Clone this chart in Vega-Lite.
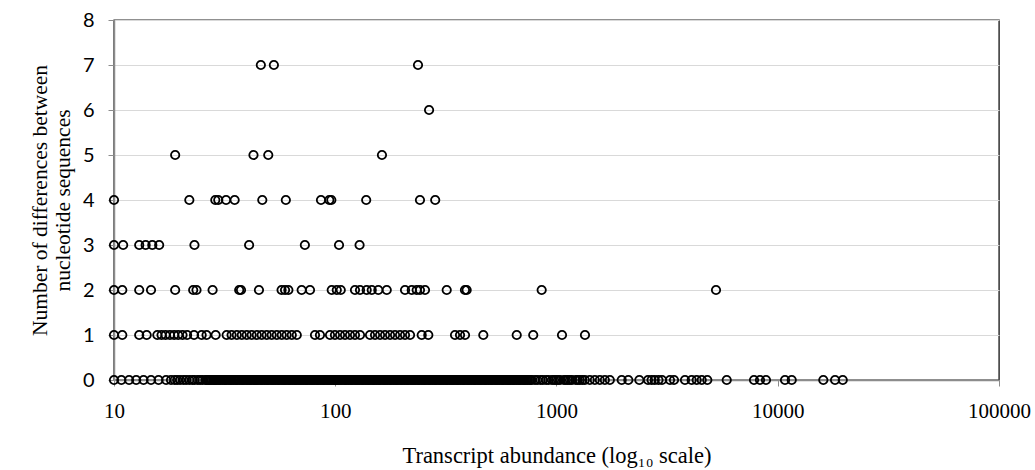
{
  "$schema": "https://vega.github.io/schema/vega-lite/v6.json",
  "autosize": "none",
  "width": 885,
  "height": 360,
  "padding": {"left": 114, "top": 20, "right": 36, "bottom": 90},
  "background": "white",
  "config": {
    "view": {"stroke": "#222222", "strokeWidth": 1.4},
    "axis": {"grid": false}
  },
  "datasets": {
    "pts": [
      {"abundance": 46.1, "diff": 7}, {"abundance": 52.8, "diff": 7}, {"abundance": 236.6, "diff": 7},
      {"abundance": 265.5, "diff": 6},
      {"abundance": 18.9, "diff": 5}, {"abundance": 42.7, "diff": 5}, {"abundance": 49.8, "diff": 5}, {"abundance": 162.6, "diff": 5},
      {"abundance": 10.0, "diff": 4}, {"abundance": 21.9, "diff": 4}, {"abundance": 28.7, "diff": 4}, {"abundance": 29.6, "diff": 4},
      {"abundance": 32.1, "diff": 4}, {"abundance": 35.1, "diff": 4}, {"abundance": 46.8, "diff": 4}, {"abundance": 59.8, "diff": 4},
      {"abundance": 86.2, "diff": 4}, {"abundance": 94.0, "diff": 4}, {"abundance": 96.0, "diff": 4}, {"abundance": 138, "diff": 4},
      {"abundance": 241.5, "diff": 4}, {"abundance": 283, "diff": 4},
      {"abundance": 10.0, "diff": 3}, {"abundance": 11.0, "diff": 3}, {"abundance": 13.0, "diff": 3}, {"abundance": 13.9, "diff": 3},
      {"abundance": 14.9, "diff": 3}, {"abundance": 16.0, "diff": 3}, {"abundance": 23.1, "diff": 3}, {"abundance": 40.8, "diff": 3},
      {"abundance": 72.9, "diff": 3}, {"abundance": 104, "diff": 3}, {"abundance": 128.8, "diff": 3},
      {"abundance": 10.0, "diff": 2}, {"abundance": 10.9, "diff": 2}, {"abundance": 13.0, "diff": 2}, {"abundance": 14.7, "diff": 2},
      {"abundance": 18.9, "diff": 2}, {"abundance": 22.8, "diff": 2}, {"abundance": 23.6, "diff": 2}, {"abundance": 27.9, "diff": 2},
      {"abundance": 36.8, "diff": 2}, {"abundance": 37.5, "diff": 2}, {"abundance": 45.2, "diff": 2}, {"abundance": 57.2, "diff": 2},
      {"abundance": 59.3, "diff": 2}, {"abundance": 61.4, "diff": 2}, {"abundance": 70.5, "diff": 2}, {"abundance": 76.9, "diff": 2},
      {"abundance": 96.4, "diff": 2}, {"abundance": 101.6, "diff": 2}, {"abundance": 105.9, "diff": 2}, {"abundance": 122.8, "diff": 2},
      {"abundance": 129.4, "diff": 2}, {"abundance": 138.7, "diff": 2}, {"abundance": 146.2, "diff": 2}, {"abundance": 156.6, "diff": 2},
      {"abundance": 170.9, "diff": 2}, {"abundance": 206.7, "diff": 2}, {"abundance": 221.7, "diff": 2}, {"abundance": 233.4, "diff": 2},
      {"abundance": 241.5, "diff": 2}, {"abundance": 254.5, "diff": 2}, {"abundance": 319, "diff": 2}, {"abundance": 385.7, "diff": 2},
      {"abundance": 392.6, "diff": 2}, {"abundance": 857, "diff": 2}, {"abundance": 5260, "diff": 2},
      {"abundance": 10.0, "diff": 1}, {"abundance": 10.9, "diff": 1}, {"abundance": 13.0, "diff": 1}, {"abundance": 14.05, "diff": 1},
      {"abundance": 15.7, "diff": 1}, {"abundance": 16.4, "diff": 1}, {"abundance": 17.1, "diff": 1}, {"abundance": 17.9, "diff": 1},
      {"abundance": 18.7, "diff": 1}, {"abundance": 19.5, "diff": 1}, {"abundance": 20.4, "diff": 1}, {"abundance": 21.4, "diff": 1},
      {"abundance": 23.0, "diff": 1}, {"abundance": 24.9, "diff": 1}, {"abundance": 26.2, "diff": 1}, {"abundance": 28.8, "diff": 1},
      {"abundance": 32.3, "diff": 1}, {"abundance": 34.0, "diff": 1}, {"abundance": 35.9, "diff": 1}, {"abundance": 37.8, "diff": 1},
      {"abundance": 39.8, "diff": 1}, {"abundance": 41.9, "diff": 1}, {"abundance": 44.2, "diff": 1}, {"abundance": 46.5, "diff": 1},
      {"abundance": 49.0, "diff": 1}, {"abundance": 51.6, "diff": 1}, {"abundance": 54.4, "diff": 1}, {"abundance": 57.3, "diff": 1},
      {"abundance": 60.3, "diff": 1}, {"abundance": 63.6, "diff": 1}, {"abundance": 67.0, "diff": 1}, {"abundance": 81.0, "diff": 1},
      {"abundance": 85.3, "diff": 1}, {"abundance": 94.7, "diff": 1}, {"abundance": 99.7, "diff": 1}, {"abundance": 105.1, "diff": 1},
      {"abundance": 110.7, "diff": 1}, {"abundance": 116.6, "diff": 1}, {"abundance": 122.8, "diff": 1}, {"abundance": 129.4, "diff": 1},
      {"abundance": 143.6, "diff": 1}, {"abundance": 151.3, "diff": 1}, {"abundance": 159.4, "diff": 1}, {"abundance": 167.9, "diff": 1},
      {"abundance": 176.9, "diff": 1}, {"abundance": 186.3, "diff": 1}, {"abundance": 196.3, "diff": 1}, {"abundance": 206.7, "diff": 1},
      {"abundance": 217.8, "diff": 1}, {"abundance": 245.9, "diff": 1}, {"abundance": 263.4, "diff": 1}, {"abundance": 347.8, "diff": 1},
      {"abundance": 366.4, "diff": 1}, {"abundance": 386.0, "diff": 1}, {"abundance": 466.9, "diff": 1}, {"abundance": 661, "diff": 1},
      {"abundance": 785, "diff": 1}, {"abundance": 1059, "diff": 1}, {"abundance": 1345, "diff": 1},
      {"abundance": 10.0, "diff": 0}, {"abundance": 10.8, "diff": 0}, {"abundance": 11.7, "diff": 0}, {"abundance": 12.6, "diff": 0},
      {"abundance": 13.6, "diff": 0}, {"abundance": 14.7, "diff": 0}, {"abundance": 15.9, "diff": 0}, {"abundance": 17.2, "diff": 0},
      {"abundance": 18.1, "diff": 0}, {"abundance": 18.8, "diff": 0}, {"abundance": 19.3, "diff": 0}, {"abundance": 19.9, "diff": 0},
      {"abundance": 20.6, "diff": 0}, {"abundance": 21.2, "diff": 0}, {"abundance": 21.9, "diff": 0}, {"abundance": 22.6, "diff": 0},
      {"abundance": 23.1, "diff": 0}, {"abundance": 23.9, "diff": 0}, {"abundance": 24.5, "diff": 0}, {"abundance": 25.1, "diff": 0},
      {"abundance": 25.9, "diff": 0}, {"abundance": 26.6, "diff": 0}, {"abundance": 27.2, "diff": 0}, {"abundance": 28.1, "diff": 0},
      {"abundance": 28.7, "diff": 0}, {"abundance": 29.6, "diff": 0}, {"abundance": 30.4, "diff": 0}, {"abundance": 31.5, "diff": 0},
      {"abundance": 32.2, "diff": 0}, {"abundance": 33.4, "diff": 0}, {"abundance": 34.1, "diff": 0}, {"abundance": 35.3, "diff": 0},
      {"abundance": 36.2, "diff": 0}, {"abundance": 37.5, "diff": 0}, {"abundance": 38.4, "diff": 0}, {"abundance": 39.7, "diff": 0},
      {"abundance": 40.9, "diff": 0}, {"abundance": 41.8, "diff": 0}, {"abundance": 43.3, "diff": 0}, {"abundance": 44.4, "diff": 0},
      {"abundance": 45.9, "diff": 0}, {"abundance": 47.1, "diff": 0}, {"abundance": 48.7, "diff": 0}, {"abundance": 49.9, "diff": 0},
      {"abundance": 51.6, "diff": 0}, {"abundance": 52.9, "diff": 0}, {"abundance": 54.7, "diff": 0}, {"abundance": 56.1, "diff": 0},
      {"abundance": 58.0, "diff": 0}, {"abundance": 59.5, "diff": 0}, {"abundance": 61.5, "diff": 0}, {"abundance": 63.1, "diff": 0},
      {"abundance": 65.2, "diff": 0}, {"abundance": 66.9, "diff": 0}, {"abundance": 69.1, "diff": 0}, {"abundance": 70.8, "diff": 0},
      {"abundance": 73.2, "diff": 0}, {"abundance": 75.0, "diff": 0}, {"abundance": 77.6, "diff": 0}, {"abundance": 79.5, "diff": 0},
      {"abundance": 82.2, "diff": 0}, {"abundance": 84.3, "diff": 0}, {"abundance": 87.1, "diff": 0}, {"abundance": 89.4, "diff": 0},
      {"abundance": 92.3, "diff": 0}, {"abundance": 94.8, "diff": 0}, {"abundance": 97.9, "diff": 0}, {"abundance": 100.5, "diff": 0},
      {"abundance": 103.6, "diff": 0}, {"abundance": 106.5, "diff": 0}, {"abundance": 110.2, "diff": 0}, {"abundance": 112.9, "diff": 0},
      {"abundance": 116.8, "diff": 0}, {"abundance": 119.7, "diff": 0}, {"abundance": 123.8, "diff": 0}, {"abundance": 126.9, "diff": 0},
      {"abundance": 131.2, "diff": 0}, {"abundance": 134.6, "diff": 0}, {"abundance": 139.1, "diff": 0}, {"abundance": 142.6, "diff": 0},
      {"abundance": 147.5, "diff": 0}, {"abundance": 151.2, "diff": 0}, {"abundance": 156.3, "diff": 0}, {"abundance": 160.2, "diff": 0},
      {"abundance": 165.7, "diff": 0}, {"abundance": 169.9, "diff": 0}, {"abundance": 175.6, "diff": 0}, {"abundance": 180.1, "diff": 0},
      {"abundance": 186.2, "diff": 0}, {"abundance": 190.8, "diff": 0}, {"abundance": 197.3, "diff": 0}, {"abundance": 202.3, "diff": 0},
      {"abundance": 209.1, "diff": 0}, {"abundance": 214.4, "diff": 0}, {"abundance": 221.7, "diff": 0}, {"abundance": 227.2, "diff": 0},
      {"abundance": 235.0, "diff": 0}, {"abundance": 240.9, "diff": 0}, {"abundance": 249.1, "diff": 0}, {"abundance": 255.3, "diff": 0},
      {"abundance": 264.0, "diff": 0}, {"abundance": 270.6, "diff": 0}, {"abundance": 279.8, "diff": 0}, {"abundance": 286.9, "diff": 0},
      {"abundance": 296.6, "diff": 0}, {"abundance": 304.1, "diff": 0}, {"abundance": 314.4, "diff": 0}, {"abundance": 322.3, "diff": 0},
      {"abundance": 333.3, "diff": 0}, {"abundance": 341.6, "diff": 0}, {"abundance": 353.3, "diff": 0}, {"abundance": 362.1, "diff": 0},
      {"abundance": 374.5, "diff": 0}, {"abundance": 383.8, "diff": 0}, {"abundance": 397.0, "diff": 0}, {"abundance": 406.8, "diff": 0},
      {"abundance": 420.8, "diff": 0}, {"abundance": 431.2, "diff": 0}, {"abundance": 446.0, "diff": 0}, {"abundance": 457.1, "diff": 0},
      {"abundance": 472.8, "diff": 0}, {"abundance": 484.5, "diff": 0}, {"abundance": 501.1, "diff": 0}, {"abundance": 513.6, "diff": 0},
      {"abundance": 531.2, "diff": 0}, {"abundance": 544.4, "diff": 0}, {"abundance": 563.1, "diff": 0}, {"abundance": 577.1, "diff": 0},
      {"abundance": 596.9, "diff": 0}, {"abundance": 611.7, "diff": 0}, {"abundance": 632.7, "diff": 0}, {"abundance": 648.4, "diff": 0},
      {"abundance": 670.6, "diff": 0}, {"abundance": 687.3, "diff": 0}, {"abundance": 710.9, "diff": 0}, {"abundance": 728.5, "diff": 0},
      {"abundance": 753.5, "diff": 0}, {"abundance": 772.2, "diff": 0}, {"abundance": 798.7, "diff": 0}, {"abundance": 818.6, "diff": 0},
      {"abundance": 846.6, "diff": 0}, {"abundance": 867.7, "diff": 0}, {"abundance": 897.4, "diff": 0}, {"abundance": 919.8, "diff": 0},
      {"abundance": 954, "diff": 0}, {"abundance": 995, "diff": 0}, {"abundance": 1037, "diff": 0}, {"abundance": 1081, "diff": 0},
      {"abundance": 1126, "diff": 0}, {"abundance": 1174, "diff": 0}, {"abundance": 1223, "diff": 0}, {"abundance": 1275, "diff": 0},
      {"abundance": 1343, "diff": 0}, {"abundance": 1414, "diff": 0}, {"abundance": 1490, "diff": 0}, {"abundance": 1570, "diff": 0},
      {"abundance": 1654, "diff": 0}, {"abundance": 1742, "diff": 0}, {"abundance": 1971, "diff": 0}, {"abundance": 2112, "diff": 0},
      {"abundance": 2368, "diff": 0}, {"abundance": 2592, "diff": 0}, {"abundance": 2690, "diff": 0}, {"abundance": 2780, "diff": 0},
      {"abundance": 2890, "diff": 0}, {"abundance": 2998, "diff": 0}, {"abundance": 3258, "diff": 0}, {"abundance": 3397, "diff": 0},
      {"abundance": 3808, "diff": 0}, {"abundance": 4083, "diff": 0}, {"abundance": 4301, "diff": 0}, {"abundance": 4532, "diff": 0},
      {"abundance": 4804, "diff": 0}, {"abundance": 5880, "diff": 0}, {"abundance": 7810, "diff": 0}, {"abundance": 8313, "diff": 0},
      {"abundance": 8849, "diff": 0}, {"abundance": 10785, "diff": 0}, {"abundance": 11566, "diff": 0}, {"abundance": 16066, "diff": 0},
      {"abundance": 18155, "diff": 0}, {"abundance": 19670, "diff": 0},
      {"abundance": 26.25, "diff": 0}, {"abundance": 26.9, "diff": 0}, {"abundance": 27.65, "diff": 0}, {"abundance": 28.4, "diff": 0},
      {"abundance": 29.15, "diff": 0}, {"abundance": 30.0, "diff": 0}, {"abundance": 30.95, "diff": 0}, {"abundance": 31.85, "diff": 0},
      {"abundance": 32.8, "diff": 0}, {"abundance": 33.75, "diff": 0}, {"abundance": 34.7, "diff": 0}, {"abundance": 35.75, "diff": 0},
      {"abundance": 36.85, "diff": 0}, {"abundance": 37.95, "diff": 0}, {"abundance": 39.05, "diff": 0}, {"abundance": 40.3, "diff": 0},
      {"abundance": 41.35, "diff": 0}, {"abundance": 42.55, "diff": 0}, {"abundance": 43.85, "diff": 0}, {"abundance": 45.15, "diff": 0},
      {"abundance": 46.5, "diff": 0}, {"abundance": 47.9, "diff": 0}, {"abundance": 49.3, "diff": 0}, {"abundance": 50.75, "diff": 0},
      {"abundance": 52.25, "diff": 0}, {"abundance": 53.8, "diff": 0}, {"abundance": 55.4, "diff": 0}, {"abundance": 57.05, "diff": 0},
      {"abundance": 58.75, "diff": 0}, {"abundance": 60.5, "diff": 0}, {"abundance": 62.3, "diff": 0}, {"abundance": 64.15, "diff": 0},
      {"abundance": 66.05, "diff": 0}, {"abundance": 68.0, "diff": 0}, {"abundance": 69.95, "diff": 0}, {"abundance": 72.0, "diff": 0},
      {"abundance": 74.1, "diff": 0}, {"abundance": 76.3, "diff": 0}, {"abundance": 78.55, "diff": 0}, {"abundance": 80.85, "diff": 0},
      {"abundance": 83.25, "diff": 0}, {"abundance": 85.7, "diff": 0}, {"abundance": 88.25, "diff": 0}, {"abundance": 90.85, "diff": 0},
      {"abundance": 93.55, "diff": 0}, {"abundance": 96.35, "diff": 0}, {"abundance": 99.2, "diff": 0}, {"abundance": 102.05, "diff": 0},
      {"abundance": 105.05, "diff": 0}, {"abundance": 108.35, "diff": 0}, {"abundance": 111.55, "diff": 0}, {"abundance": 114.85, "diff": 0},
      {"abundance": 118.25, "diff": 0}, {"abundance": 121.75, "diff": 0}, {"abundance": 125.35, "diff": 0}, {"abundance": 129.05, "diff": 0},
      {"abundance": 132.9, "diff": 0}, {"abundance": 136.85, "diff": 0}, {"abundance": 140.85, "diff": 0}, {"abundance": 145.05, "diff": 0},
      {"abundance": 149.35, "diff": 0}, {"abundance": 153.75, "diff": 0}, {"abundance": 158.25, "diff": 0}, {"abundance": 162.95, "diff": 0},
      {"abundance": 167.8, "diff": 0}, {"abundance": 172.75, "diff": 0}, {"abundance": 177.85, "diff": 0}, {"abundance": 183.15, "diff": 0},
      {"abundance": 188.5, "diff": 0}, {"abundance": 194.05, "diff": 0}, {"abundance": 199.8, "diff": 0}, {"abundance": 205.7, "diff": 0},
      {"abundance": 211.75, "diff": 0}, {"abundance": 218.05, "diff": 0}, {"abundance": 224.45, "diff": 0}, {"abundance": 231.1, "diff": 0},
      {"abundance": 237.95, "diff": 0}, {"abundance": 245.0, "diff": 0}, {"abundance": 252.2, "diff": 0}, {"abundance": 259.65, "diff": 0},
      {"abundance": 267.3, "diff": 0}, {"abundance": 275.2, "diff": 0}, {"abundance": 283.35, "diff": 0}, {"abundance": 291.75, "diff": 0},
      {"abundance": 300.35, "diff": 0}, {"abundance": 309.25, "diff": 0}, {"abundance": 318.35, "diff": 0}, {"abundance": 327.8, "diff": 0},
      {"abundance": 337.45, "diff": 0}, {"abundance": 347.45, "diff": 0}, {"abundance": 357.7, "diff": 0}, {"abundance": 368.3, "diff": 0},
      {"abundance": 379.15, "diff": 0}, {"abundance": 390.4, "diff": 0}, {"abundance": 401.9, "diff": 0}, {"abundance": 413.8, "diff": 0},
      {"abundance": 426.0, "diff": 0}, {"abundance": 438.6, "diff": 0}, {"abundance": 451.55, "diff": 0}, {"abundance": 464.95, "diff": 0},
      {"abundance": 478.65, "diff": 0}, {"abundance": 492.8, "diff": 0}, {"abundance": 507.35, "diff": 0}, {"abundance": 522.4, "diff": 0},
      {"abundance": 537.8, "diff": 0}, {"abundance": 553.75, "diff": 0}, {"abundance": 570.1, "diff": 0}, {"abundance": 587.0, "diff": 0},
      {"abundance": 604.3, "diff": 0}, {"abundance": 622.2, "diff": 0}, {"abundance": 640.55, "diff": 0}, {"abundance": 659.5, "diff": 0},
      {"abundance": 678.95, "diff": 0}, {"abundance": 699.1, "diff": 0}, {"abundance": 719.7, "diff": 0}, {"abundance": 741.0, "diff": 0},
      {"abundance": 762.85, "diff": 0}, {"abundance": 975, "diff": 0}, {"abundance": 1016, "diff": 0}, {"abundance": 1103, "diff": 0},
      {"abundance": 1150, "diff": 0}, {"abundance": 1249, "diff": 0}, {"abundance": 1309, "diff": 0}
    ]
  },
  "data": {"name": "pts"},
  "mark": {"type": "point", "shape": "circle", "filled": false, "size": 70, "stroke": "#000000", "strokeWidth": 1.8, "opacity": 1},
  "encoding": {
    "x": {
      "field": "abundance",
      "type": "quantitative",
      "scale": {"type": "log", "domain": [10, 100000], "nice": false},
      "axis": {
        "values": [10, 100, 1000, 10000, 100000],
        "format": "d",
        "grid": false,
        "labelFlush": false,
        "domainColor": "#8c8c8c",
        "domainWidth": 1.5,
        "tickColor": "#8c8c8c",
        "tickSize": 6,
        "labelFont": "Liberation Serif",
        "labelFontSize": 21,
        "labelColor": "#000000",
        "labelPadding": 14,
        "title": "Transcript abundance (log₁₀ scale)",
        "titleFont": "Liberation Serif",
        "titleFontSize": 22.5,
        "titleFontWeight": "normal",
        "titleColor": "#000000",
        "titlePadding": 23
      }
    },
    "y": {
      "field": "diff",
      "type": "quantitative",
      "scale": {"domain": [0, 8], "nice": false},
      "axis": {
        "values": [0, 1, 2, 3, 4, 5, 6, 7, 8],
        "grid": true,
        "gridColor": "#d9d9d9",
        "gridWidth": 1.2,
        "domainColor": "#8c8c8c",
        "domainWidth": 1.5,
        "tickColor": "#8c8c8c",
        "tickSize": 6,
        "labelFont": "Lato",
        "labelFontSize": 20,
        "labelColor": "#000000",
        "labelPadding": 14,
        "title": ["Number of differences between", "nucleotide sequences"],
        "titleFont": "Liberation Serif",
        "titleFontSize": 21.5,
        "titleFontWeight": "normal",
        "titleColor": "#000000",
        "titlePadding": 8,
        "titleLineHeight": 23
      }
    }
  }
}
